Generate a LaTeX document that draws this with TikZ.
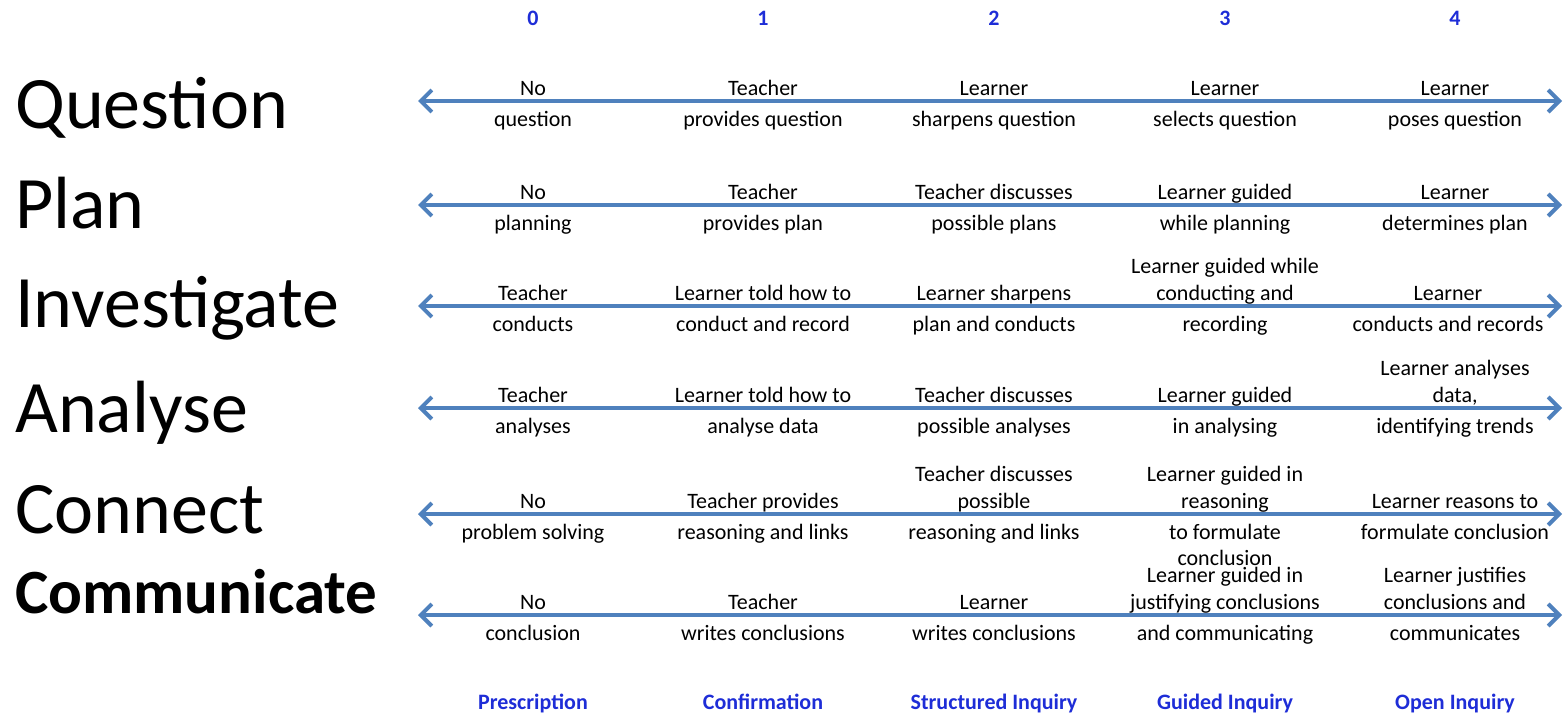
\documentclass[tikz,border=0pt]{standalone}
\usepackage{fontspec}
\setmainfont{Carlito}
\usetikzlibrary{arrows.meta}
\definecolor{fleche}{RGB}{79,129,189}
\definecolor{niveau}{RGB}{30,45,215}

\begin{document}
\begin{tikzpicture}[x=1pt,y=-1pt,
  etape/.style={anchor=base west,inner sep=0pt,font=\fontsize{74}{80}\selectfont},
  texte/.style={anchor=base,inner sep=0pt,align=center,font=\fontsize{22}{26.5}\selectfont},
  titre/.style={anchor=base,inner sep=0pt,text=niveau,font=\fontsize{22}{26}\selectfont\bfseries},
  axe/.style={draw=fleche,line width=4pt,{Straight Barb[length=11pt,width=22pt]}-{Straight Barb[length=11pt,width=22pt]}}]
\useasboundingbox (0,0) rectangle (1566,715);

% niveaux en haut
\node[titre] (n0) at (533,25) {0};
\node[titre] (n1) at (763,25) {1};
\node[titre] (n2) at (994,25) {2};
\node[titre] (n3) at (1225,25) {3};
\node[titre] (n4) at (1455,25) {4};

% etapes a gauche
\node[etape] (eq) at (15,128) {Question};
\node[etape] (ep) at (15,228) {Plan};
\node[etape] (ei) at (15,327) {Investigate};
\node[etape] (ea) at (15,432) {Analyse};
\node[etape] (ec) at (15,533) {Connect};
\node[etape,font=\fontsize{63}{70}\selectfont\bfseries] (em) at (15,613) {Communicate};

% Question
\coordinate (ql) at (418,101);
\coordinate (qr) at (1562,101);
\draw[axe] (ql) -- (qr);
\node[texte] (q0a) at (533,95) {No};
\node[texte] (q0b) at (533,126) {question};
\node[texte] (q1a) at (763,95) {Teacher};
\node[texte] (q1b) at (763,126) {provides question};
\node[texte] (q2a) at (994,95) {Learner};
\node[texte] (q2b) at (994,126) {sharpens question};
\node[texte] (q3a) at (1225,95) {Learner};
\node[texte] (q3b) at (1225,126) {selects question};
\node[texte] (q4a) at (1455,95) {Learner};
\node[texte] (q4b) at (1455,126) {poses question};

% Plan
\coordinate (pl) at (418,205);
\coordinate (pr) at (1562,205);
\draw[axe] (pl) -- (pr);
\node[texte] (p0a) at (533,199) {No};
\node[texte] (p0b) at (533,230) {planning};
\node[texte] (p1a) at (763,199) {Teacher};
\node[texte] (p1b) at (763,230) {provides plan};
\node[texte] (p2a) at (994,199) {Teacher discusses};
\node[texte] (p2b) at (994,230) {possible plans};
\node[texte] (p3a) at (1225,199) {Learner guided};
\node[texte] (p3b) at (1225,230) {while planning};
\node[texte] (p4a) at (1455,199) {Learner};
\node[texte] (p4b) at (1455,230) {determines plan};

% Investigate
\coordinate (il) at (418,306);
\coordinate (ir) at (1562,306);
\draw[axe] (il) -- (ir);
\node[texte] (i0a) at (533,300) {Teacher};
\node[texte] (i0b) at (533,331) {conducts};
\node[texte] (i1a) at (763,300) {Learner told how to};
\node[texte] (i1b) at (763,331) {conduct and record};
\node[texte] (i2a) at (994,300) {Learner sharpens};
\node[texte] (i2b) at (994,331) {plan and conducts};
\node[texte] (i3a) at (1225,300) {Learner guided while\\conducting and};
\node[texte] (i3b) at (1225,331) {recording};
\node[texte] (i4a) at (1448,300) {Learner};
\node[texte] (i4b) at (1448,331) {conducts and records};

% Analyse
\coordinate (al) at (418,408);
\coordinate (ar) at (1562,408);
\draw[axe] (al) -- (ar);
\node[texte] (a0a) at (533,402) {Teacher};
\node[texte] (a0b) at (533,433) {analyses};
\node[texte] (a1a) at (763,402) {Learner told how to};
\node[texte] (a1b) at (763,433) {analyse data};
\node[texte] (a2a) at (994,402) {Teacher discusses};
\node[texte] (a2b) at (994,433) {possible analyses};
\node[texte] (a3a) at (1225,402) {Learner guided};
\node[texte] (a3b) at (1225,433) {in analysing};
\node[texte] (a4a) at (1455,402) {Learner analyses\\data,};
\node[texte] (a4b) at (1455,433) {identifying trends};

% Connect
\coordinate (cl) at (418,514);
\coordinate (cr) at (1562,514);
\draw[axe] (cl) -- (cr);
\node[texte] (c0a) at (533,508) {No};
\node[texte] (c0b) at (533,539) {problem solving};
\node[texte] (c1a) at (763,508) {Teacher provides};
\node[texte] (c1b) at (763,539) {reasoning and links};
\node[texte] (c2a) at (994,508) {Teacher discusses\\possible};
\node[texte] (c2b) at (994,539) {reasoning and links};
\node[texte] (c3a) at (1225,508) {Learner guided in\\reasoning};
\node[texte] (c3b) at (1225,565.5) {to formulate\\conclusion};
\node[texte] (c4a) at (1455,508) {Learner reasons to};
\node[texte] (c4b) at (1455,539) {formulate conclusion};

% Communicate
\coordinate (ml) at (418,615);
\coordinate (mr) at (1562,615);
\draw[axe] (ml) -- (mr);
\node[texte] (m0a) at (533,609) {No};
\node[texte] (m0b) at (533,640) {conclusion};
\node[texte] (m1a) at (763,609) {Teacher};
\node[texte] (m1b) at (763,640) {writes conclusions};
\node[texte] (m2a) at (994,609) {Learner};
\node[texte] (m2b) at (994,640) {writes conclusions};
\node[texte] (m3a) at (1225,609) {Learner guided in\\justifying conclusions};
\node[texte] (m3b) at (1225,640) {and communicating};
\node[texte] (m4a) at (1455,609) {Learner justifies\\conclusions and};
\node[texte] (m4b) at (1455,640) {communicates};

% types d'enquete en bas
\node[titre] (t0) at (533,709) {Prescription};
\node[titre] (t1) at (763,709) {Confirmation};
\node[titre] (t2) at (994,709) {Structured Inquiry};
\node[titre] (t3) at (1225,709) {Guided Inquiry};
\node[titre] (t4) at (1455,709) {Open Inquiry};
\end{tikzpicture}
\end{document}
